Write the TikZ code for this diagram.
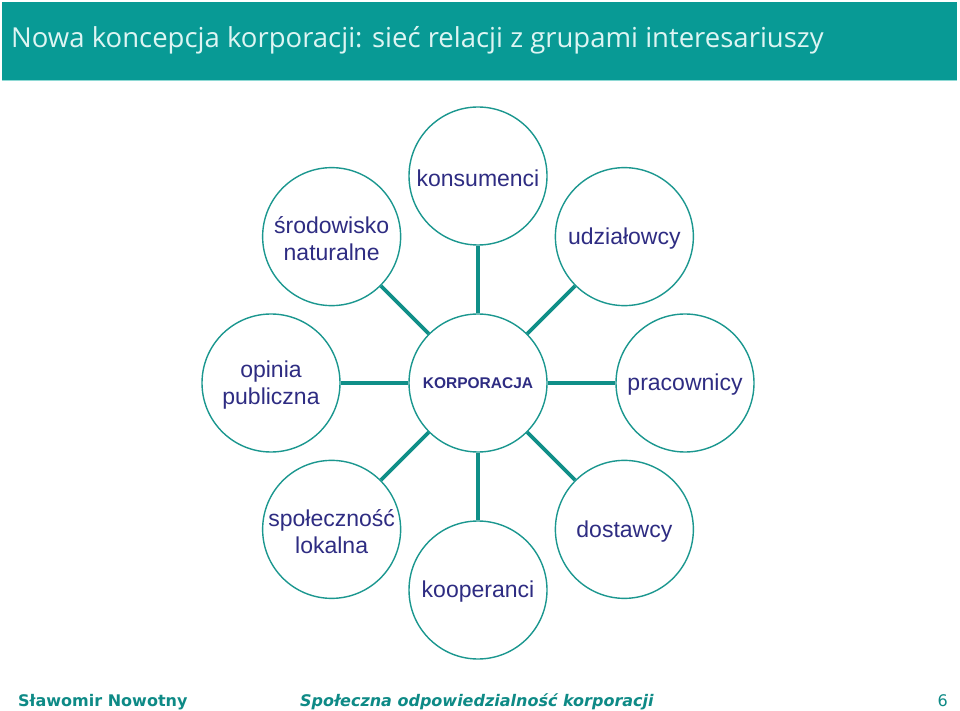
\documentclass[tikz,border=0pt]{standalone}
\usepackage{fontspec}
\setmainfont{Liberation Sans}
\newfontfamily\titlefont{Open Sans}
\newfontfamily\footfont{DejaVu Sans}
\usepackage{tikz}
\usetikzlibrary{calc}
\definecolor{slidebar}{HTML}{089A95}
\definecolor{slideline}{HTML}{8ED9D4}
\definecolor{slidetitle}{HTML}{DDF5F3}
\definecolor{ringteal}{HTML}{1B978F}
\definecolor{linkteal}{HTML}{108F88}
\definecolor{labelblue}{HTML}{2E2C82}
\definecolor{footteal}{HTML}{0E8A86}

\begin{document}
\begin{tikzpicture}[x=1pt, y=1pt,
  group/.style={circle, draw=ringteal, line width=1.4pt, fill=white, minimum size=138pt, inner sep=0pt},
  grouptext/.style={text=labelblue, font=\fontsize{23}{27}\selectfont, align=center, inner sep=0pt},
  link/.style={draw=linkteal, line width=3.8pt},
  foot/.style={anchor=base west, text=footteal, font=\footfont\fontsize{16}{18}\selectfont, inner sep=0pt}]
  \useasboundingbox (0,0) rectangle (960,710);
  % title bar
  \fill[slidebar] (2,629) rectangle (957,708);
  \draw[slideline, line width=1pt] (2,629) -- (957,629);
  \node[anchor=base west, inner sep=0pt, text=slidetitle, font=\titlefont\fontsize{27.5}{32}\selectfont] (title) at (11,662)
    {Nowa koncepcja korporacji: sieć relacji z grupami interesariuszy};
  % centre and groups
  \node[group] (corp) at (478,327) {};
  \node[text=labelblue, font=\bfseries\fontsize{15.5}{18}\selectfont, inner sep=0pt] at (corp) {KORPORACJA};
  \foreach \name/\ang/\txt in {konsum/90/konsumenci, udzial/45/udziałowcy, prac/0/pracownicy,
      dost/-45/dostawcy, koop/-90/kooperanci, spol/-135/{społeczność\\lokalna},
      opinia/180/{opinia\\publiczna}, srod/135/{środowisko\\naturalne}} {
    \node[group] (\name) at ($(corp)+(\ang:207)$) {};
    \node[grouptext] at ($(\name)+(0,-2)$) {\txt};
    \draw[link] (corp) -- (\name);
  }
  % footer
  \node[foot, font=\footfont\bfseries\fontsize{16}{18}\selectfont] (author) at (18,4) {Sławomir Nowotny};
  \node[foot, font=\footfont\bfseries\itshape\fontsize{16}{18}\selectfont] (course) at (300,4) {Społeczna odpowiedzialność korporacji};
  \node[foot, anchor=base east] (page) at (948,4) {6};
\end{tikzpicture}
\end{document}
